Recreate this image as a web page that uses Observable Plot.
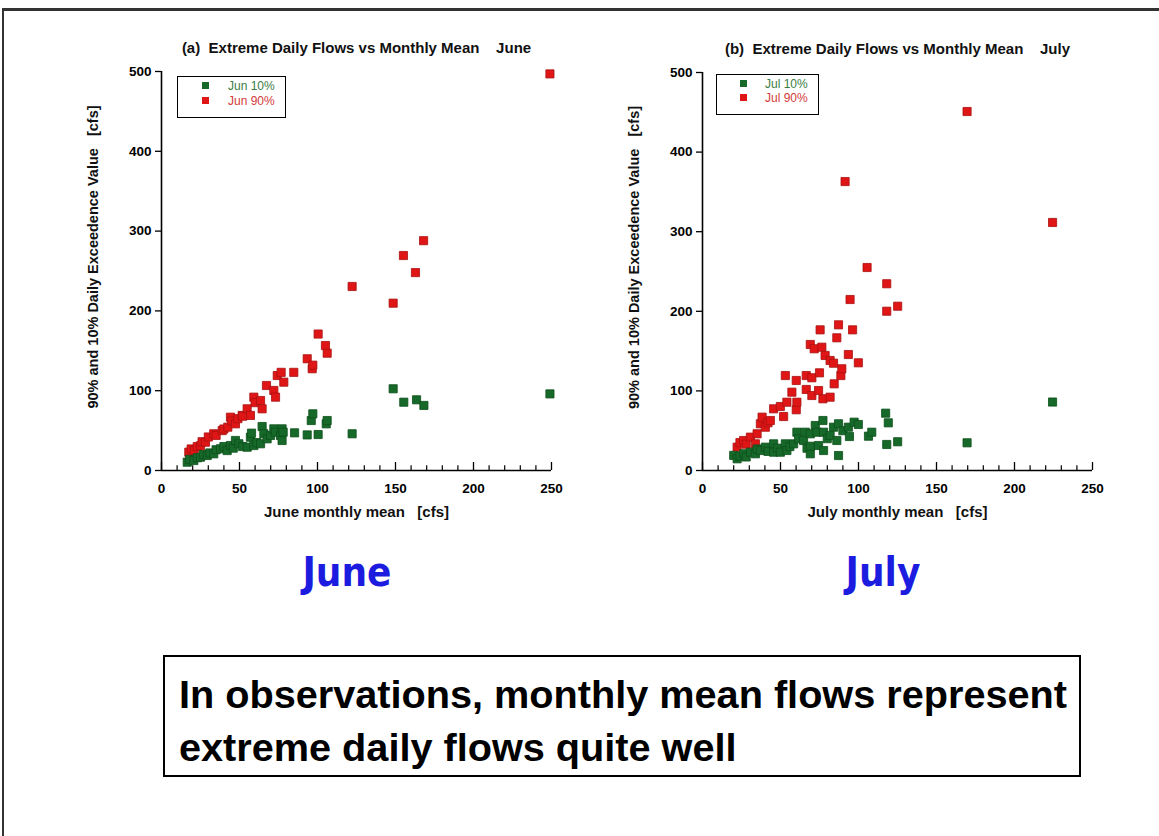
<!DOCTYPE html>
<html><head><meta charset="utf-8">
<script src="https://cdn.jsdelivr.net/npm/d3@7"></script>
<script src="https://cdn.jsdelivr.net/npm/@observablehq/plot@0.6"></script>
<style>
html,body{margin:0;padding:0;background:#fff}
body{width:1159px;height:836px;overflow:hidden;position:relative;font-family:"Liberation Sans",Arial,sans-serif}
#frame{position:absolute;left:2px;top:8px;width:1300px;height:1000px;border-top:3px solid #333;border-left:2px solid #333;box-sizing:border-box}
.chart{position:absolute}
.legend{position:absolute;border:1.5px solid #000;background:#fff;font-size:12px;box-sizing:border-box}
.legend .row{position:absolute;height:12px;line-height:12px;white-space:nowrap}
.legend .sw{position:absolute;width:7px;height:7px;top:2px}
.legend .lab{position:absolute}
.big{position:absolute;font-family:"DejaVu Sans Condensed","DejaVu Sans",sans-serif;font-weight:bold;color:#1c1ce0;font-size:40px;transform:translate(-50%,-50%);white-space:nowrap}
#note{position:absolute;left:163px;top:655px;width:918px;height:122px;border:2px solid #000;box-sizing:border-box;color:#000}
#note .ln{position:absolute;left:14px;white-space:nowrap;font-family:"Liberation Sans",Arial,sans-serif;font-weight:bold;font-size:38px;line-height:40px;transform-origin:0 50%}
</style>
</head><body>
<div id="frame"></div>
<div id="app"></div>
<script>
// ---- data ----
const months = ["June", "July"];
const shortMonths = ["Jun", "Jul"];
const xTicks = [0, 50, 100, 150, 200, 250];
const yTicks = [0, 100, 200, 300, 400, 500];
const noteLines = ["In observations, monthly mean flows represent", "extreme daily flows quite well"];

const jun90 = [[17.5,23],[19,27],[21,25],[22.9,30],[25,31],[26,36],[28.2,35.5],[30,42],[33.5,46],[35,44],[38.9,50],[40,52],[42.5,54.3],[44.2,66.8],[45,62],[47.4,58.5],[49,65],[51.7,69],[52,68],[54.9,77.3],[57,69],[59.2,91.9],[60,85],[63.5,87.7],[64.5,77.3],[67.3,106.5],[72,100.3],[73.1,91.9],[74.2,119],[76.7,123],[78.4,110.7],[84.8,123],[93.4,140],[96.6,127.5],[97,132],[100.4,171],[105.1,156.6],[106.2,147],[122.2,230.6],[148.5,209.7],[155.1,269.4],[162.8,248],[168,288],[249,497]];
const jun10 = [[16.5,10.4],[18,14],[20.7,12.5],[23,16],[25,16.7],[27,20],[29.3,18.8],[31,22],[33.5,20.9],[35,26],[37.8,27.2],[40,30],[42.1,25],[44.2,31.3],[46,28],[47.4,37.6],[49.6,33.5],[52,30],[54.9,29.2],[57,41.7],[57.7,46.8],[59.2,31.3],[61,35],[63.5,33.5],[64.5,55.1],[65.6,46],[67.7,39.7],[69.9,43.9],[72,52.2],[73,48],[76.3,43.9],[77.3,52.2],[77.3,37.6],[78,48],[85.3,47.2],[93.4,44.6],[96,62.6],[97,71],[100.4,45.1],[105.6,58.5],[106.2,62.6],[122.2,46],[148.5,102.4],[155.3,85.6],[163.5,88.6],[168.2,81.5],[249,96]];
const jul90 = [[22.2,29.3],[24,35],[26.4,37.7],[28,33],[30.7,41.9],[33.9,33.5],[35,46.1],[37.1,58.7],[38.2,67],[40.3,54.4],[42,60],[43.5,62.8],[45.6,77.5],[49.9,80.4],[52,67.8],[53.1,119.3],[54.1,85.8],[57.3,98.4],[60.1,113.1],[60.1,76.3],[60.5,85.8],[66.5,119.3],[66.5,101.8],[69.1,158.3],[70.1,116.5],[70.1,94.2],[71.6,152.9],[74.4,100.5],[75,122.7],[75.4,176.7],[76.5,154.9],[77.2,90.1],[78.6,144.5],[81.8,138.2],[81.8,92.1],[84,134.8],[84.4,108.9],[86.1,166.7],[87.2,183],[88.7,119.3],[89.3,127.8],[91.4,363],[93.5,145.7],[94.6,214.8],[96.2,176.7],[99.9,135.3],[105.5,255],[118.1,234.6],[118.1,200.1],[125.1,206.4],[169.6,451],[224.4,311.6]];
const jul10 = [[20,19],[22.2,14.7],[24,18],[26.4,21],[28,17],[30.7,23],[33.9,21],[35,27],[37.1,25.1],[40.3,29.3],[42,24],[45.6,33.5],[45.6,23],[48,28],[49.9,23],[53.1,33.5],[54.1,25.1],[56,30],[58.4,33.5],[60.5,48.1],[61.6,39.8],[64.8,37.7],[65.9,48.1],[67,28],[69.1,21],[69.1,30.5],[69.1,46.1],[72.3,56.5],[73.3,48.1],[74.4,31.4],[77.2,62.8],[77.6,48.1],[77.6,25.1],[80,40],[81.8,44],[84,54.4],[86.1,37.7],[87.2,18.8],[87.2,58.7],[90,50],[93.5,54.4],[94.2,42.7],[97.2,60.7],[99.9,57.8],[106.4,43.1],[108.5,48.1],[117.4,72],[118.1,32.7],[119.1,59.9],[125.1,36.1],[169.6,34.8],[224.4,86]];

const GREEN = "#17692a", GREEN_EDGE = "#0d4f1b";
const RED = "#e01616", RED_EDGE = "#a81010";
const NB = "\u00a0";

function chart(cfg) {
  const majorTicks = xTicks;
  const minorTicks = d3.range(0, 251, 10).filter(v => !majorTicks.includes(v));
  return Plot.plot({
    width: 521, height: 516,
    marginLeft: 101, marginRight: 30, marginTop: cfg.mt, marginBottom: 516 - cfg.mt - cfg.ph,
    style: {fontFamily: "'Liberation Sans', Arial, sans-serif", fontSize: "13px", background: "transparent", overflow: "visible"},
    x: {domain: [0, 250], axis: null},
    y: {domain: [0, 500], axis: null},
    marks: [
      Plot.axisY({ticks: yTicks, tickSize: 6, tickPadding: 4, fontWeight: "bold", fontSize: 13.5, label: null, strokeWidth: 1.3}),
      Plot.axisX({ticks: majorTicks, tickSize: 0, tickPadding: 13, fontWeight: "bold", fontSize: 13.5, label: null}),
      Plot.ruleX(minorTicks, {x: d => d, y1: 0, y2: 6, stroke: "#000", strokeWidth: 1.2}),
      Plot.ruleX(majorTicks, {x: d => d, y1: 0, y2: 10, stroke: "#000", strokeWidth: 1.3}),
      Plot.ruleX([0], {stroke: "#000", strokeWidth: 1.6}),
      Plot.ruleY([0], {stroke: "#000", strokeWidth: 1.6}),
      Plot.dot(cfg.hi, {x: d => d[0], y: d => d[1], symbol: "square", r: 4.6, fill: RED, stroke: RED_EDGE, strokeWidth: 0.8}),
      Plot.dot(cfg.lo, {x: d => d[0], y: d => d[1], symbol: "square", r: 4.6, fill: GREEN, stroke: GREEN_EDGE, strokeWidth: 0.8}),
      Plot.text([cfg.title], {frameAnchor: "top", dy: -29, fontSize: 15, fontWeight: "bold", fill: "#111"}),
      Plot.text([cfg.xlabel], {frameAnchor: "bottom", dy: 46, fontSize: 15, fontWeight: "bold", fill: "#111"}),
      Plot.text(["90% and 10% Daily Exceedence Value" + NB + NB + NB + "[cfs]"], {frameAnchor: "left", textAnchor: "middle", rotate: -90, dx: -68, dy: -14, fontSize: 14.5, fontWeight: "bold", fill: "#111"})
    ]
  });
}

const app = document.getElementById("app");
const configs = [
  {left: 60, top: 20, mt: 51, ph: 399, lo: jun10, hi: jun90,
   title: "(a)" + NB + NB + "Extreme Daily Flows vs Monthly Mean" + NB + NB + NB + NB + months[0],
   xlabel: months[0] + " monthly mean" + NB + NB + NB + "[cfs]",
   legend: {left: 177, top: 76, w: 109, h: 42, sw: 24, lab: 50, r1: 9, r2: 24},
   big: {x: 347, y: 572}},
  {left: 601, top: 20, mt: 52, ph: 398, lo: jul10, hi: jul90,
   title: "(b)" + NB + NB + "Extreme Daily Flows vs Monthly Mean" + NB + NB + NB + NB + months[1],
   xlabel: months[1] + " monthly mean" + NB + NB + NB + "[cfs]",
   legend: {left: 716, top: 74, w: 103, h: 41, sw: 23, lab: 48, r1: 9, r2: 23},
   big: {x: 883, y: 572}}
];

configs.forEach((c, i) => {
  const wrap = document.createElement("div");
  wrap.className = "chart";
  wrap.style.left = c.left + "px";
  wrap.style.top = c.top + "px";
  wrap.appendChild(chart(c));
  app.appendChild(wrap);

  const lg = document.createElement("div");
  lg.className = "legend";
  Object.assign(lg.style, {left: c.legend.left + "px", top: c.legend.top + "px", width: c.legend.w + "px", height: c.legend.h + "px"});
  [[shortMonths[i] + " 10%", GREEN, "#3b7d45", c.legend.r1], [shortMonths[i] + " 90%", RED, "#d23a3a", c.legend.r2]].forEach(([txt, col, tcol, top]) => {
    const row = document.createElement("div");
    row.className = "row";
    row.style.top = (top - 6) + "px";
    row.innerHTML = `<div class="sw" style="left:${c.legend.sw}px;background:${col}"></div><div class="lab" style="left:${c.legend.lab}px;color:${tcol}">${txt}</div>`;
    lg.appendChild(row);
  });
  app.appendChild(lg);

  const big = document.createElement("div");
  big.className = "big";
  big.style.left = c.big.x + "px";
  big.style.top = c.big.y + "px";
  big.textContent = months[i];
  app.appendChild(big);
});

const note = document.createElement("div");
note.id = "note";
app.appendChild(note);
const targetW = 888;
noteLines.forEach((t, k) => {
  const s = document.createElement("span");
  s.className = "ln";
  s.style.top = (18 + k * 53) + "px";
  s.textContent = t;
  note.appendChild(s);
});
const first = note.querySelector(".ln");
const w = first.getBoundingClientRect().width;
const sx = targetW / w;
note.querySelectorAll(".ln").forEach(s => s.style.transform = `scaleX(${sx})`);
</script>
</body></html>
